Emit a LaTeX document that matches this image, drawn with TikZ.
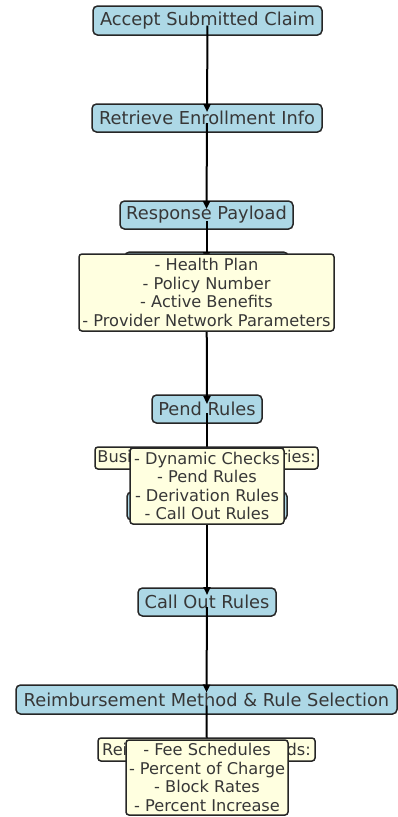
\documentclass[tikz,border=0pt]{standalone}
\usepackage{fontspec}
\setmainfont{DejaVu Sans}
\usetikzlibrary{arrows.meta}
\definecolor{boxblue}{RGB}{173,216,230}
\definecolor{boxyellow}{RGB}{255,255,224}
\definecolor{txt}{RGB}{55,55,55}
\begin{document}
\begin{tikzpicture}[x=1pt,y=-1pt,
  bluebox/.style={draw=black!85, line width=1.5pt, fill=boxblue, rounded corners=4.5pt,
    inner sep=0pt, text=txt, font=\fontsize{17.8}{20}\selectfont},
  notebox/.style={draw=black!85, line width=1.5pt, fill=boxyellow, rounded corners=3pt,
    inner sep=0pt, text=txt, align=center, font=\fontsize{16.2}{18.4}\selectfont},
  arr/.style={line width=2pt, black, -{Triangle[length=8pt,width=7pt]}},
  plain/.style={line width=2pt, black}]
\useasboundingbox (0,0) rectangle (398,817);
% blue step boxes
\node[bluebox, minimum width=229, minimum height=29] (A) at (207.5,20.5) {Accept Submitted Claim};
\node[bluebox, minimum width=230, minimum height=28] (B) at (207,118) {Retrieve Enrollment Info};
\node[bluebox, minimum width=173, minimum height=28] (C) at (206.5,215) {Response Payload};
\node[bluebox, minimum width=163, minimum height=28] (H1) at (206.5,266) {};
\node[bluebox, minimum width=110, minimum height=28] (D) at (207,409) {Pend Rules};
\node[bluebox, minimum width=160, minimum height=28] (H2) at (207,506) {};
\node[bluebox, minimum width=138, minimum height=28] (E) at (207,602) {Call Out Rules};
\node[bluebox, minimum width=381, minimum height=29] (F) at (206.5,699.5) {Reimbursement Method \& Rule Selection};
\coordinate (Fend) at (207,770);
% connectors
\draw[arr] ([yshift=-5pt]A.center) -- ([yshift=6pt]B.center);
\draw[arr] ([yshift=-5pt]B.center) -- ([yshift=6pt]C.center);
\draw[arr] ([yshift=-6pt]C.center) -- ([yshift=6pt]H1.center);
\draw[arr] ([yshift=-6pt]H1.center) -- ([yshift=5pt]D.center);
\draw[arr] ([yshift=-4pt]D.center) -- ([yshift=6pt]H2.center);
\draw[arr] ([yshift=-6pt]H2.center) -- ([yshift=7pt]E.center);
\draw[arr] ([yshift=-5pt]E.center) -- ([yshift=7pt]F.center);
\draw[plain] ([yshift=-6pt]F.center) -- (Fend);
% notes
\node[notebox, minimum width=255, minimum height=77] (Y1) at (206.5,292.5)
  {- Health Plan\\- Policy Number\\- Active Benefits\\- Provider Network Parameters};
\node[notebox, minimum width=223, minimum height=22] (Y2) at (206.5,458) {Business Rules Categories:};
\node[notebox, minimum width=154, minimum height=76] (Y3) at (207,486)
  {- Dynamic Checks\\- Pend Rules\\- Derivation Rules\\- Call Out Rules};
\node[notebox, minimum width=217, minimum height=23] (Y4) at (206.5,749.5) {Reimbursement Methods:};
\node[notebox, minimum width=162, minimum height=75] (Y5) at (207,777.5)
  {- Fee Schedules\\- Percent of Charge\\- Block Rates\\- Percent Increase};
\end{tikzpicture}
\end{document}
